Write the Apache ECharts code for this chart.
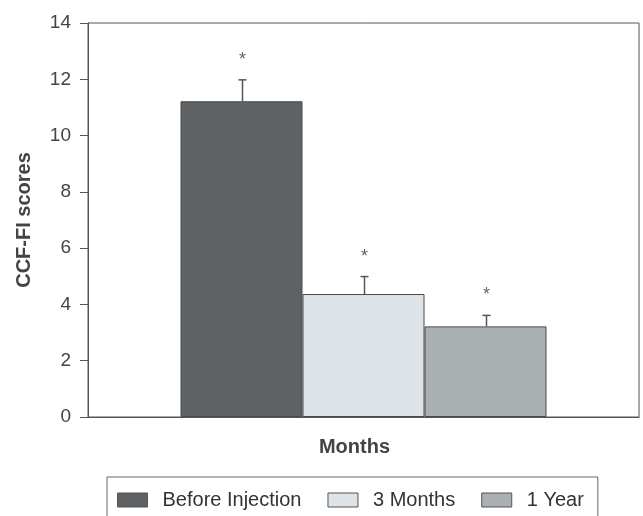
<!DOCTYPE html>
<html><head><meta charset="utf-8">
<script src="https://cdn.jsdelivr.net/npm/echarts@6/dist/echarts.min.js"></script>
<style>html,body{margin:0;padding:0;background:#fff}#c{width:643px;height:516px}</style>
</head><body><div id="c"></div>
<script>
const categories = ['Months'];
const seriesNames = ['Before Injection', '3 Months', '1 Year'];
const means = [11.22, 4.37, 3.22];
const errors = [0.76, 0.62, 0.39];
const markers = ['*', '*', '*'];
const yTicks = [0, 2, 4, 6, 8, 10, 12, 14];

const colors = ['#5f6264', '#dde3e6', '#aab0b2'];
const BW = 122;
const chart = echarts.init(document.getElementById('c'));
const font = 'Liberation Sans, Arial, sans-serif';

const barSeries = seriesNames.map((n, i) => ({
  name: n, type: 'bar', data: [means[i]], barWidth: BW, barGap: '0%',
  itemStyle: { color: colors[i], borderColor: '#4a4a4a', borderWidth: 1 },
  z: 2
}));

const errSeries = {
  type: 'custom', name: 'err', z: 5, silent: true,
  data: means.map((m, i) => [0, m, m + errors[i], i]),
  renderItem: function (params, api) {
    const idx = api.value(3);
    const base = api.coord([0, api.value(1)]);
    const top = api.coord([0, api.value(2)]);
    const x = Math.round(base[0] + (idx - 1) * BW) + 0.5;
    return {
      type: 'group', children: [
        { type: 'line', shape: { x1: x, y1: base[1], x2: x, y2: top[1] }, style: { stroke: '#555', lineWidth: 1.5 } },
        { type: 'line', shape: { x1: x - 4, y1: top[1], x2: x + 4, y2: top[1] }, style: { stroke: '#555', lineWidth: 1.5 } },
        { type: 'text', x: x, y: top[1] - 20, style: { text: markers[idx], fill: '#666', font: '18px ' + font, align: 'center', verticalAlign: 'middle' } }
      ]
    };
  }
};

chart.setOption({
  backgroundColor: '#fff',
  animation: false,
  grid: { left: 88, right: 4, top: 23, bottom: 99, show: true, borderColor: '#555', borderWidth: 1 },
  legend: {
    data: seriesNames, top: 477, left: 107, icon: 'rect',
    borderColor: '#666', borderWidth: 1, padding: [13, 14, 30, 10],
    itemWidth: 30, itemHeight: 14, itemGap: 26,
    textStyle: { fontSize: 20, color: '#333', fontFamily: font, padding: [0, 0, 0, 10] },
    itemStyle: { borderColor: '#555', borderWidth: 1 }
  },
  xAxis: {
    type: 'category', data: categories,
    name: 'Months', nameLocation: 'middle', nameGap: 20,
    nameTextStyle: { fontSize: 20, fontWeight: 'bold', color: '#444', fontFamily: font, padding: [0, 18, 0, 0] },
    axisLine: { lineStyle: { color: '#555' } },
    axisTick: { show: false }, axisLabel: { show: false }
  },
  yAxis: {
    type: 'value', min: yTicks[0], max: yTicks[yTicks.length - 1], interval: 2,
    name: 'CCF-FI scores', nameLocation: 'middle', nameGap: 54,
    nameTextStyle: { fontSize: 20, fontWeight: 'bold', color: '#444', fontFamily: font },
    axisLine: { show: true, lineStyle: { color: '#555' } },
    axisTick: { show: true, length: 8, lineStyle: { color: '#555' } },
    axisLabel: { fontSize: 19, color: '#444', fontFamily: font, margin: 17 },
    splitLine: { show: false }
  },
  series: [...barSeries, errSeries]
});
</script></body></html>
